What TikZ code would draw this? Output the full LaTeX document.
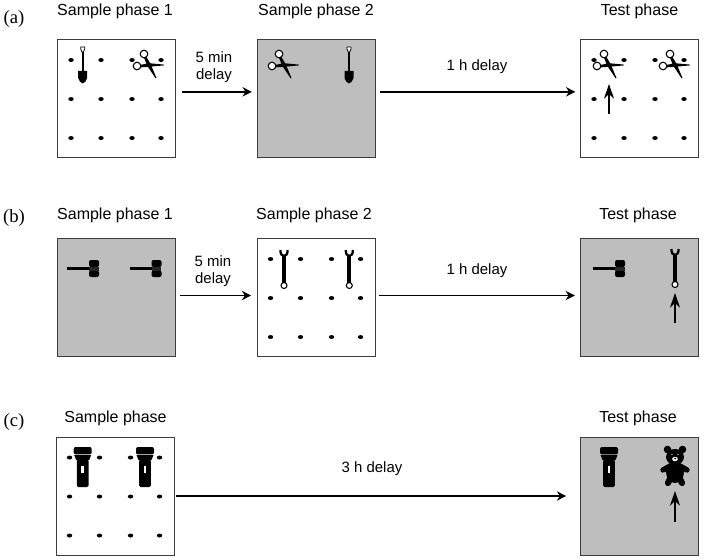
\documentclass[tikz,border=0pt]{standalone}
\usepackage{fontspec}
\setmainfont{Liberation Sans}
\newfontfamily\serifpart{Liberation Serif}
\usetikzlibrary{arrows.meta}
\usetikzlibrary{calc}
\usetikzlibrary{positioning}
\definecolor{panelgray}{RGB}{190,190,190}
\definecolor{edgegray}{RGB}{60,60,60}

% grid of pegs inside a board
\newcommand{\pegs}[1]{
	\foreach \x in {14,44,75,104}
	\foreach \y in {21,60,99}
	\fill ($(#1.north west)+(\x,\y)$) ellipse[x radius=2.7, y radius=2];
}

\begin{document}
\begin{tikzpicture}[
		x=0.75pt, y=-0.75pt,
		every node/.style={font=\fontsize{12}{14}\selectfont},
		board/.style={rectangle, draw=edgegray, line width=0.7pt, minimum size=88.5pt, inner sep=0pt, fill=white},
		grayboard/.style={board, fill=panelgray},
		phase/.style={inner sep=0pt},
		delay/.style={inner sep=0pt, align=center, font=\fontsize{11.2}{13}\selectfont},
		tag/.style={inner sep=0pt, font=\serifpart\fontsize{14}{16}\selectfont},
		arrow/.style={-{Stealth[length=7pt, width=7pt]}, line width=1.1pt},
		cue/.style={-{Stealth[length=11pt, width=7.5pt]}, line width=1.2pt},
		shovel/.pic={
				\draw[fill=white, line width=0.6pt] (-2,0) -- (2,0) -- (2,2) -- (0.7,5) -- (-0.7,5) -- (-2,2) -- cycle;
				\fill (-1.1,5) rectangle (1.1,25);
				\fill (-4.5,24) -- (4.5,24) -- (4.5,31) .. controls (4.5,34) and (1.5,35.5) .. (0,36.5)
				.. controls (-1.5,35.5) and (-4.5,34) .. (-4.5,31) -- cycle;
			},
		scissors/.pic={
				\fill (-9,0) -- (0,-1.8) -- (15,-0.4) -- (15,0.4) -- (0,1.8) -- (-9,2.4) -- cycle;
				\fill (-5.2,-7.8) -- (-3,-8.8) -- (1.8,-0.6) -- (7.5,13) -- (6.6,13.3) -- (-1.8,0.8) -- cycle;
				\draw[fill=white, line width=0.8pt] (-5,-11) circle[radius=3.8];
				\draw[fill=white, line width=0.8pt] (-12,1) circle[radius=3.8];
			},
		hammer/.pic={
				\fill (-27,-1.3) rectangle (0,1.3);
				\fill[rounded corners=1.5] (-5,-8.5) rectangle (5,-1.5);
				\fill[rounded corners=1.5] (-5,2) rectangle (5,8.5);
				\fill[black!85] (-4.6,-2) rectangle (4.6,2.5);
			},
		wrench/.pic={
				\draw[line width=1.7pt] (-3.5,0) .. controls (-3.8,4) and (-2,6) .. (0,6) .. controls (2,6) and (3.8,4) .. (3.5,0);
				\fill (-1.9,5) rectangle (1.9,33);
				\draw[fill=white, line width=0.8pt] (0,35.5) circle[radius=3];
			},
		flashlight/.pic={
				\fill[rounded corners=1.5] (-9,0) rectangle (9,7.4);
				\fill (-8.5,8) -- (8.5,8) -- (6.5,13) -- (-6.5,13) -- cycle;
				\fill[rounded corners=1] (-5.8,12.5) rectangle (5.8,40);
				\fill[white] (-1.4,19) rectangle (1.4,26);
			},
		teddy/.pic={
				\fill (-7.5,-7.5) circle[radius=3.8];
				\fill (7.5,-7.5) circle[radius=3.8];
				\fill (0,0) ellipse[x radius=9, y radius=8];
				\fill (0,15) ellipse[x radius=9, y radius=11];
				\draw[line width=4pt, line cap=round] (-5,9) -- (-12,13);
				\draw[line width=4pt, line cap=round] (5,9) -- (12,13);
				\draw[line width=4.6pt, line cap=round] (-5,22) -- (-7,26);
				\draw[line width=4.6pt, line cap=round] (5,22) -- (7,26);
				\fill[white] (0,2) ellipse[x radius=2.8, y radius=2.2];
				\fill (0,1.5) circle[radius=1];
				\fill[white] (-3,-2.5) circle[radius=0.7];
				\fill[white] (3,-2.5) circle[radius=0.7];
			}
	]

	\useasboundingbox (0,0) rectangle (704,560);

	% Row (a)
	\node[tag] (taga) at (14,19) {(a)};
	\node[board] (a1) at (116.5,98.5) {};
	\node[grayboard] (a2) at (316,98.5) {};
	\node[board] (a3) at (639.5,98.5) {};
	\node[phase] (a1title) at (115,11) {Sample phase 1};
	\node[phase] (a2title) at (316,11) {Sample phase 2};
	\node[phase] (a3title) at (639.5,11) {Test phase};
	\pegs{a1}
	\pegs{a3}
	\pic at (82.7,47) {shovel};
	\pic at (149,65) {scissors};
	\pic at (284,65) {scissors};
	\pic at (349,47) {shovel};
	\pic at (609,65) {scissors};
	\pic at (675,65) {scissors};
	\node[delay] (a12) at (214,67) {5 min\\delay};
	\node[delay] (a23) at (477,67) {1 h delay};
	\draw[arrow, shorten <=4.5pt, shorten >=3.5pt] ([yshift=5pt]a1.east) -- ([yshift=5pt]a2.west);
	\draw[arrow, shorten <=3.5pt, shorten >=3.5pt] ([yshift=5pt]a2.east) -- ([yshift=5pt]a3.west);
	\coordinate (a3tail) at (609,114);
	\coordinate (a3tip) at (609,84);
	\draw[cue] (a3tail) -- (a3tip);

	% Row (b)
	\node[tag] (tagb) at (14,218) {(b)};
	\node[grayboard] (b1) at (116.5,297.5) {};
	\node[board] (b2) at (316,297.5) {};
	\node[grayboard] (b3) at (639,297.5) {};
	\node[phase] (b1title) at (115,215) {Sample phase 1};
	\node[phase] (b2title) at (314,215) {Sample phase 2};
	\node[phase] (b3title) at (638,215) {Test phase};
	\pegs{b2}
	\pic at (94,268.5) {hammer};
	\pic at (156.5,268.5) {hammer};
	\pic at (284,250) {wrench};
	\pic at (349.3,250) {wrench};
	\pic at (620,268.5) {hammer};
	\pic at (675,249) {wrench};
	\node[delay] (b12) at (213,271) {5 min\\delay};
	\node[delay] (b23) at (477,271) {1 h delay};
	\draw[arrow, shorten <=3pt, shorten >=4pt] ([yshift=1.5pt]b1.east) -- ([yshift=1.5pt]b2.west);
	\draw[arrow, shorten <=2.5pt, shorten >=3.5pt] ([yshift=1.5pt]b2.east) -- ([yshift=1.5pt]b3.west);
	\coordinate (b3tail) at (675,323);
	\coordinate (b3tip) at (675,293);
	\draw[cue] (b3tail) -- (b3tip);

	% Row (c)
	\node[tag] (tagc) at (14,422) {(c)};
	\node[board] (c1) at (115,496) {};
	\node[grayboard] (c3) at (639,496) {};
	\node[phase] (c1title) at (115.5,418) {Sample phase};
	\node[phase] (c3title) at (638,418) {Test phase};
	\pegs{c1}
	\pic at (82.7,447) {flashlight};
	\pic at (145,447) {flashlight};
	\pic at (609,447) {flashlight};
	\pic at (675,457) {teddy};
	\node[delay] (c13) at (372,469) {3 h delay};
	\draw[arrow, shorten <=1pt, shorten >=10pt] (c1.east) -- (c3.west);
	\coordinate (c3tail) at (675,522);
	\coordinate (c3tip) at (675,491);
	\draw[cue] (c3tail) -- (c3tip);

\end{tikzpicture}
\end{document}
